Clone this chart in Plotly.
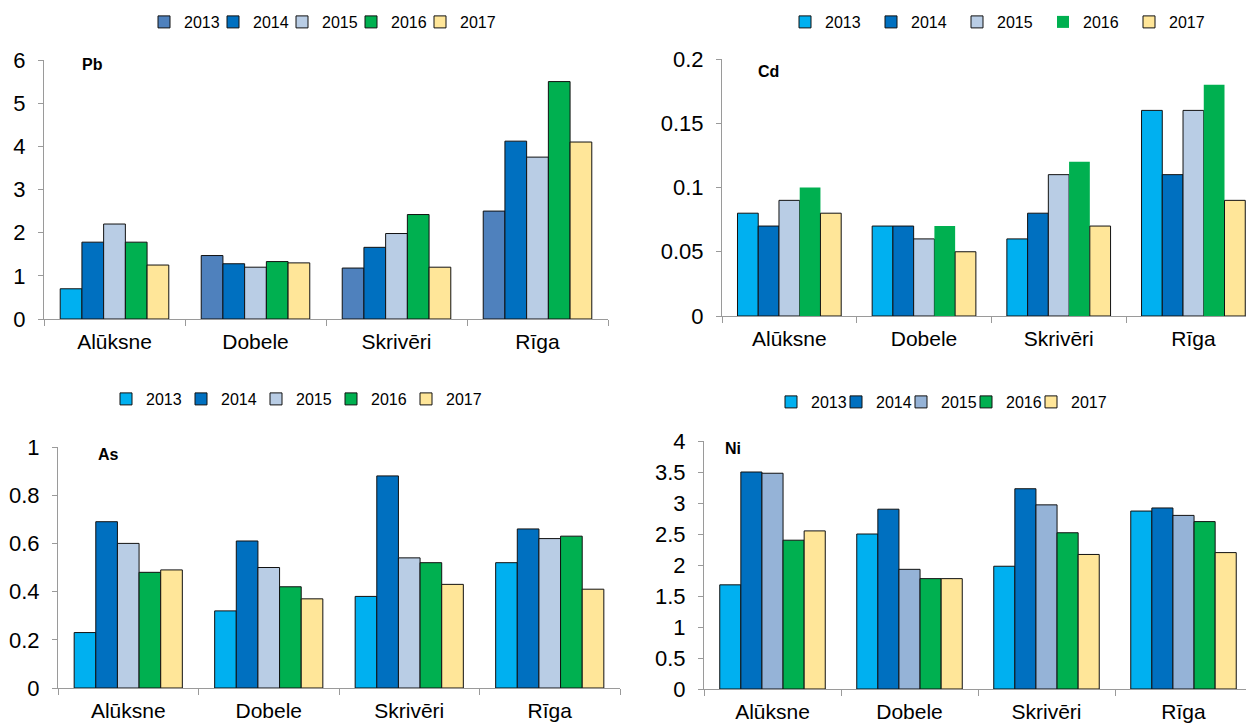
import plotly.graph_objects as go

W, H = 1254, 726
PAGE_OFFSET = 8  # default body margin of the html page

sites = ["Alūksne", "Dobele", "Skrivēri", "Rīga"]
years = ["2013", "2014", "2015", "2016", "2017"]

pb_2013 = [0.70, 1.47, 1.18, 2.50]
pb_2014 = [1.78, 1.28, 1.66, 4.12]
pb_2015 = [2.20, 1.20, 1.98, 3.75]
pb_2016 = [1.78, 1.33, 2.42, 5.50]
pb_2017 = [1.25, 1.30, 1.20, 4.10]

cd_2013 = [0.08, 0.07, 0.06, 0.16]
cd_2014 = [0.07, 0.07, 0.08, 0.11]
cd_2015 = [0.09, 0.06, 0.11, 0.16]
cd_2016 = [0.10, 0.07, 0.12, 0.18]
cd_2017 = [0.08, 0.05, 0.07, 0.09]

as_2013 = [0.23, 0.32, 0.38, 0.52]
as_2014 = [0.69, 0.61, 0.88, 0.66]
as_2015 = [0.60, 0.50, 0.54, 0.62]
as_2016 = [0.48, 0.42, 0.52, 0.63]
as_2017 = [0.49, 0.37, 0.43, 0.41]

ni_2013 = [1.68, 2.50, 1.98, 2.87]
ni_2014 = [3.50, 2.90, 3.23, 2.92]
ni_2015 = [3.48, 1.93, 2.97, 2.80]
ni_2016 = [2.40, 1.78, 2.52, 2.70]
ni_2017 = [2.55, 1.78, 2.17, 2.20]

C_LIGHTBLUE = "#00B0F0"
C_STEEL = "#4F81BD"
C_BLUE = "#0070C0"
C_PALE = "#B9CDE5"
C_PALE2 = "#95B3D7"
C_GREEN = "#00B050"
C_YELLOW = "#FFE699"

FONT = "Liberation Sans, Arial, sans-serif"
EDGE = "#111111"
AXIS = "#9a9a9a"

fig = go.Figure()


def add_bar(x, y, name, color, xa, ya, legend, showlegend=True, line_w=1, group=None):
    fig.add_trace(go.Bar(
        x=x, y=y, name=name, xaxis=xa, yaxis=ya, legend=legend,
        showlegend=showlegend, offsetgroup=group or name,
        legendwidth=40 if name == "2017" else None,
        marker=dict(color=color, line=dict(color=EDGE, width=line_w)),
        hoverinfo="x+y+name",
    ))


# Pb (panel 1)
add_bar(sites[1:], pb_2013[1:], "2013", C_STEEL, "x", "y", "legend", group="pb13")
add_bar(sites[:1], pb_2013[:1], "2013", C_LIGHTBLUE, "x", "y", "legend", showlegend=False, group="pb13")
for nm, vals, col in [("2014", pb_2014, C_BLUE), ("2015", pb_2015, C_PALE),
                      ("2016", pb_2016, C_GREEN), ("2017", pb_2017, C_YELLOW)]:
    add_bar(sites, vals, nm, col, "x", "y", "legend", group="pb" + nm)

# Cd (panel 2)
for nm, vals, col in [("2013", cd_2013, C_LIGHTBLUE), ("2014", cd_2014, C_BLUE),
                      ("2015", cd_2015, C_PALE), ("2016", cd_2016, C_GREEN),
                      ("2017", cd_2017, C_YELLOW)]:
    add_bar(sites, vals, nm, col, "x2", "y2", "legend2", group="cd" + nm,
            line_w=0 if nm == "2016" else 1)

# As (panel 3)
for nm, vals, col in [("2013", as_2013, C_LIGHTBLUE), ("2014", as_2014, C_BLUE),
                      ("2015", as_2015, C_PALE), ("2016", as_2016, C_GREEN),
                      ("2017", as_2017, C_YELLOW)]:
    add_bar(sites, vals, nm, col, "x3", "y3", "legend3", group="as" + nm)

# Ni (panel 4)
for nm, vals, col in [("2013", ni_2013, C_LIGHTBLUE), ("2014", ni_2014, C_BLUE),
                      ("2015", ni_2015, C_PALE2), ("2016", ni_2016, C_GREEN),
                      ("2017", ni_2017, C_YELLOW)]:
    add_bar(sites, vals, nm, col, "x4", "y4", "legend4", group="ni" + nm)


def px_x(v):
    return (v - PAGE_OFFSET) / W


def px_y(v):
    return 1 - (v - PAGE_OFFSET) / H


def xaxis(l, r, anchor, rng):
    return dict(domain=[px_x(l), px_x(r)], anchor=anchor, type="category",
                categoryorder="array", categoryarray=sites,
                range=rng, showline=True, linecolor=AXIS, linewidth=1,
                ticks="outside", tickson="boundaries", ticklen=6, tickcolor=AXIS,
                showgrid=False, zeroline=False, ticklabelstandoff=4,
                tickfont=dict(family=FONT, size=21, color="#000000"))


def yaxis(b, t, anchor, rng, dtick):
    return dict(domain=[px_y(b), px_y(t)], anchor=anchor, range=rng, dtick=dtick,
                showline=True, linecolor=AXIS, linewidth=1, ticks="outside",
                ticklen=5, tickcolor=AXIS, showgrid=False, zeroline=False,
                ticklabelstandoff=8,
                tickfont=dict(family=FONT, size=22, color="#000000"))


def legend(xpx, ypx, entry):
    return dict(orientation="h", x=px_x(xpx), y=px_y(ypx), xanchor="left",
                yanchor="middle", entrywidth=entry, entrywidthmode="pixels",
                bgcolor="rgba(0,0,0,0)", traceorder="normal",
                font=dict(family=FONT, size=16, color="#000000"))


fig.update_layout(
    width=W, height=H,
    margin=dict(l=0, r=0, t=0, b=0, autoexpand=False),
    paper_bgcolor="white", plot_bgcolor="white",
    barmode="group", bargap=0.23, bargroupgap=0,
    xaxis=xaxis(44, 608, "y", [-0.5, 3.5]),
    yaxis=yaxis(319, 60, "x", [0, 6], 1),
    xaxis2=xaxis(722, 1254, "y2", [-0.5, 3.45]),
    yaxis2=yaxis(316, 59, "x2", [0, 0.2], 0.05),
    xaxis3=xaxis(58, 620, "y3", [-0.5, 3.5]),
    yaxis3=yaxis(688, 447, "x3", [0, 1], 0.2),
    xaxis4=xaxis(704, 1252, "y4", [-0.5, 3.5]),
    yaxis4=yaxis(689, 441, "x4", [0, 4], 0.5),
    legend=legend(144, 22, 24),
    legend2=legend(785, 22, 41),
    legend3=legend(106, 399, 30),
    legend4=legend(771, 402, 20),
    showlegend=True,
)

for txt, x, y in [("Pb", 92, 65), ("Cd", 768, 71), ("As", 108, 454), ("Ni", 733, 448)]:
    fig.add_annotation(text="<b>%s</b>" % txt, x=px_x(x), y=px_y(y), xref="paper",
                       yref="paper", showarrow=False, xanchor="center", yanchor="middle",
                       font=dict(family=FONT, size=16, color="#000000"))

fig.write_html("out.html")
